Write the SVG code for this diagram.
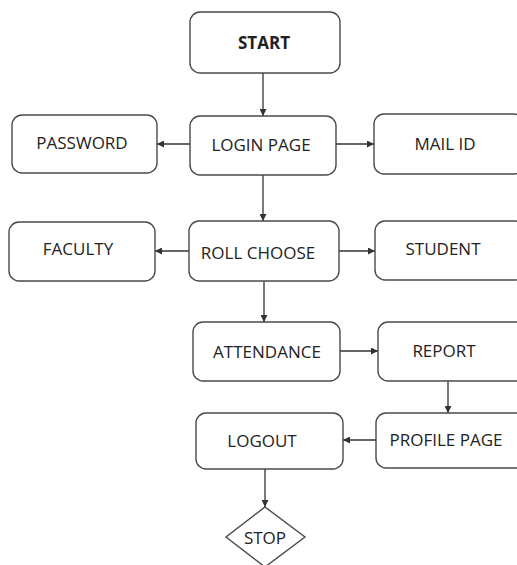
<svg xmlns="http://www.w3.org/2000/svg" width="517" height="565" viewBox="0 0 517 565">
<defs>
<marker id="ah" viewBox="0 0 10 10" refX="10" refY="5" markerWidth="7" markerHeight="7" markerUnits="userSpaceOnUse" orient="auto">
<path d="M0,0 L10,5 L0,10 z" fill="#333"/>
</marker>
<style>
.box{fill:#fff;stroke:#4a4a4a;stroke-width:1.4}
.t{font-family:"Open Sans","Liberation Sans",sans-serif;font-size:17px;fill:#222;text-anchor:middle}
.b{font-weight:bold}
.c{stroke:#333;stroke-width:1.3;fill:none;marker-end:url(#ah)}
</style>
</defs>
<rect width="517" height="565" fill="#fff"/>
<g id="connectors">
<line class="c" x1="263" y1="73" x2="263" y2="116"/>
<line class="c" x1="190" y1="144" x2="157" y2="144"/>
<line class="c" x1="336" y1="144" x2="374" y2="144"/>
<line class="c" x1="263" y1="175" x2="263" y2="221"/>
<line class="c" x1="189" y1="251" x2="155" y2="251"/>
<line class="c" x1="339" y1="251" x2="375" y2="251"/>
<line class="c" x1="264" y1="281" x2="264" y2="322"/>
<line class="c" x1="340" y1="351" x2="378" y2="351"/>
<line class="c" x1="448" y1="381" x2="448" y2="413"/>
<line class="c" x1="376" y1="440" x2="343" y2="440"/>
<line class="c" x1="265" y1="469" x2="265" y2="507"/>
</g>
<g id="start"><rect class="box" x="190" y="12" width="150" height="61" rx="10"/><text class="t b" x="264" y="49">START</text></g>
<g id="login"><rect class="box" x="190" y="116" width="146" height="59" rx="10"/><text class="t" x="261" y="151">LOGIN PAGE</text></g>
<g id="password"><rect class="box" x="12" y="115" width="145" height="58" rx="10"/><text class="t" x="82" y="149">PASSWORD</text></g>
<g id="mailid"><rect class="box" x="374" y="114" width="150" height="60" rx="10"/><text class="t" x="445" y="150">MAIL ID</text></g>
<g id="faculty"><rect class="box" x="9" y="222" width="146" height="59" rx="10"/><text class="t" x="78" y="255">FACULTY</text></g>
<g id="rollchoose"><rect class="box" x="189" y="221" width="150" height="60" rx="10"/><text class="t" x="258" y="259">ROLL CHOOSE</text></g>
<g id="student"><rect class="box" x="375" y="221" width="150" height="59" rx="10"/><text class="t" x="443" y="255">STUDENT</text></g>
<g id="attendance"><rect class="box" x="193" y="322" width="147" height="59" rx="10"/><text class="t" x="267" y="358">ATTENDANCE</text></g>
<g id="report"><rect class="box" x="378" y="322" width="150" height="59" rx="10"/><text class="t" x="444" y="357">REPORT</text></g>
<g id="profile"><rect class="box" x="376" y="413" width="150" height="55" rx="10"/><text class="t" x="446" y="446">PROFILE PAGE</text></g>
<g id="logout"><rect class="box" x="196" y="413" width="147" height="56" rx="10"/><text class="t" x="262" y="447">LOGOUT</text></g>
<g id="stop"><polygon class="box" points="265,507 305,537 265,567 226,537"/><text class="t" x="265" y="544">STOP</text></g>
</svg>
